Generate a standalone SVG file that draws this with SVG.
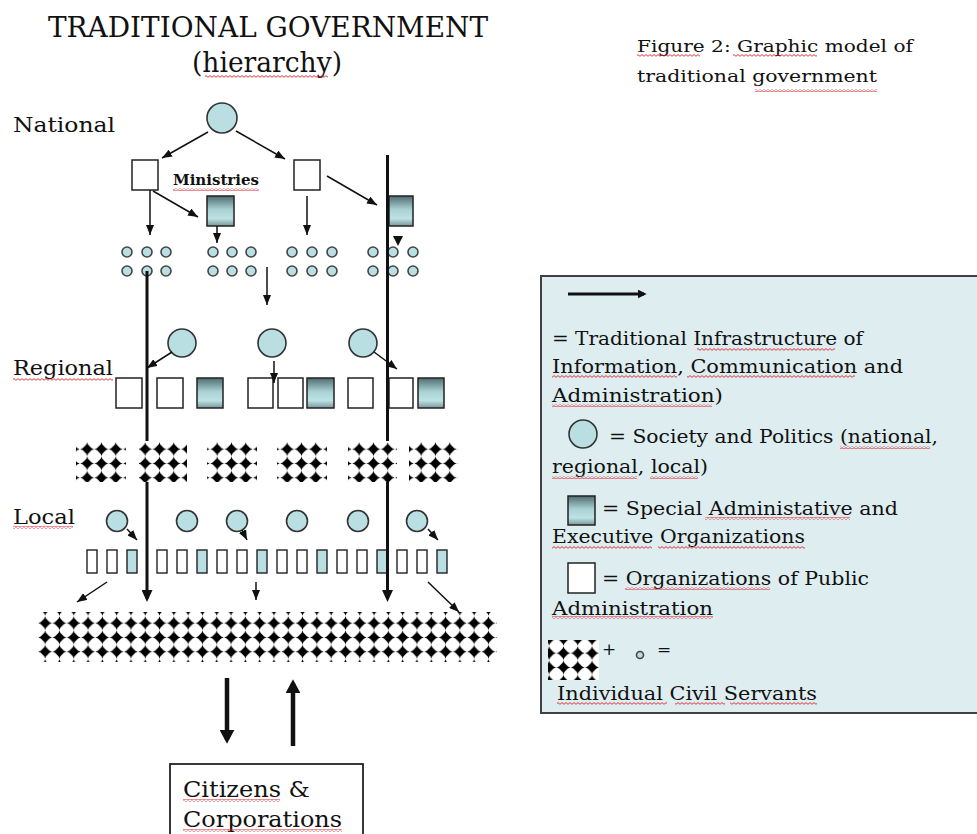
<svg xmlns="http://www.w3.org/2000/svg" width="977" height="834" viewBox="0 0 977 834">
<style>
text{font-family:"DejaVu Serif","Liberation Serif",serif;fill:#111}
.circ{fill:#b9dfe2;stroke:#333;stroke-width:1.6}
.dot{fill:#b9dfe2;stroke:#444;stroke-width:1.6}
.wbox{fill:#fff;stroke:#222;stroke-width:1.5}
.sbox{fill:url(#shade);stroke:#222;stroke-width:1.5}
.lbox{fill:#fff;stroke:#222;stroke-width:1.4}
.lsbox{fill:#b9dfe2;stroke:#222;stroke-width:1.4}
.thin{stroke:#111;stroke-width:1.5;fill:none;marker-end:url(#ah)}
.thick{stroke:#111;stroke-width:3;fill:none}
.thickA{stroke:#111;stroke-width:3;fill:none;marker-end:url(#ahT)}
.big{stroke:#111;stroke-width:4.5;fill:none;marker-end:url(#ahB)}
.dia{fill:url(#dia)}
.sq{fill:url(#sq)}
</style>
<defs>
<linearGradient id="shade" x1="0" y1="0" x2="0" y2="1">
<stop offset="0" stop-color="#4f6c6e"/>
<stop offset="0.45" stop-color="#a9d1d4"/>
<stop offset="0.75" stop-color="#bde2e5"/>
<stop offset="1" stop-color="#7a9799"/>
</linearGradient>
<pattern id="dia" width="14.3" height="14.3" patternUnits="userSpaceOnUse">
<path d="M7.15,0.3 L7.9,2.4 L11.6,6.2 L14,7.15 L11.6,8.1 L7.9,11.9 L7.15,14 L6.4,11.9 L2.7,8.1 L0.3,7.15 L2.7,6.2 L6.4,2.4 Z" fill="#000"/>
</pattern>
<pattern id="sq" width="4" height="3" patternUnits="userSpaceOnUse">
<path d="M0,2.3 L2,0.6 L4,2.3" fill="none" stroke="#e0202a" stroke-width="0.9"/>
</pattern>
<marker id="ah" viewBox="0 0 10 10" refX="10" refY="5" markerWidth="10" markerHeight="8" markerUnits="userSpaceOnUse" orient="auto" preserveAspectRatio="none"><path d="M0,0 L10,5 L0,10 Z" fill="#111"/></marker>
<marker id="ahT" viewBox="0 0 10 10" refX="7" refY="5" markerWidth="12" markerHeight="11" markerUnits="userSpaceOnUse" orient="auto" preserveAspectRatio="none"><path d="M0,0 L10,5 L0,10 Z" fill="#111"/></marker>
<marker id="ahB" viewBox="0 0 10 10" refX="7" refY="5" markerWidth="14" markerHeight="15" markerUnits="userSpaceOnUse" orient="auto" preserveAspectRatio="none"><path d="M0,0 L10,5 L0,10 Z" fill="#111"/></marker>
<marker id="ahL" viewBox="0 0 10 10" refX="7" refY="5" markerWidth="9" markerHeight="9" markerUnits="userSpaceOnUse" orient="auto" preserveAspectRatio="none"><path d="M0,0 L10,5 L0,10 Z" fill="#111"/></marker>
</defs>
<rect width="977" height="834" fill="#fff"/>

<g id="titles">
<text x="48" y="37" font-size="28" textLength="440" lengthAdjust="spacingAndGlyphs">TRADITIONAL GOVERNMENT</text>
<text x="192" y="72" font-size="28" textLength="150" lengthAdjust="spacingAndGlyphs">(hierarchy)</text>
<text x="637" y="52" font-size="17" textLength="276" lengthAdjust="spacingAndGlyphs">Figure 2: Graphic model of</text>
<text x="637" y="82" font-size="17" textLength="240" lengthAdjust="spacingAndGlyphs">traditional government</text>
<text x="13" y="132" font-size="21" textLength="102" lengthAdjust="spacingAndGlyphs">National</text>
<text x="13" y="375" font-size="21" textLength="100" lengthAdjust="spacingAndGlyphs">Regional</text>
<text x="13" y="524" font-size="21" textLength="62" lengthAdjust="spacingAndGlyphs">Local</text>
</g>

<g id="national">
<circle class="circ" cx="222" cy="118" r="15"/>
<rect class="wbox" x="132" y="160" width="26" height="30"/>
<rect class="wbox" x="294" y="160" width="26" height="30"/>
<rect class="sbox" x="207" y="196" width="27" height="30"/>
<text x="173" y="185" font-size="14" font-weight="bold" textLength="86" lengthAdjust="spacingAndGlyphs">Ministries</text>
</g>
<g id="national-dots">
<circle class="dot" cx="127" cy="252" r="5"/><circle class="dot" cx="147" cy="252" r="5"/><circle class="dot" cx="166" cy="252" r="5"/>
<circle class="dot" cx="127" cy="271" r="5"/><circle class="dot" cx="147" cy="271" r="5"/><circle class="dot" cx="166" cy="271" r="5"/>
<circle class="dot" cx="213" cy="252" r="5"/><circle class="dot" cx="232" cy="252" r="5"/><circle class="dot" cx="251" cy="252" r="5"/>
<circle class="dot" cx="213" cy="271" r="5"/><circle class="dot" cx="232" cy="271" r="5"/><circle class="dot" cx="251" cy="271" r="5"/>
<circle class="dot" cx="292" cy="252" r="5"/><circle class="dot" cx="312" cy="252" r="5"/><circle class="dot" cx="332" cy="252" r="5"/>
<circle class="dot" cx="292" cy="271" r="5"/><circle class="dot" cx="312" cy="271" r="5"/><circle class="dot" cx="332" cy="271" r="5"/>
<circle class="dot" cx="373" cy="252" r="5"/><circle class="dot" cx="393" cy="252" r="5"/><circle class="dot" cx="413" cy="252" r="5"/>
<circle class="dot" cx="373" cy="271" r="5"/><circle class="dot" cx="393" cy="271" r="5"/><circle class="dot" cx="413" cy="271" r="5"/>
</g>
<g id="national-right-box">
<rect class="sbox" x="389" y="196" width="24" height="30"/>
</g>

<g id="regional">
<circle class="circ" cx="182" cy="343" r="14"/>
<circle class="circ" cx="272" cy="343" r="14"/>
<circle class="circ" cx="363" cy="343" r="14"/>
<rect class="wbox" x="116" y="378" width="26" height="30"/>
<rect class="wbox" x="157" y="378" width="26" height="30"/>
<rect class="sbox" x="197" y="378" width="26" height="30"/>
<rect class="wbox" x="248" y="378" width="25" height="30"/>
<rect class="wbox" x="278" y="378" width="25" height="30"/>
<rect class="sbox" x="307" y="378" width="27" height="30"/>
<rect class="wbox" x="348" y="378" width="25" height="30"/>
<rect class="wbox" x="389" y="378" width="24" height="30"/>
<rect class="sbox" x="418" y="378" width="26" height="30"/>
</g>

<g id="regional-civil-servants">
<g transform="translate(80,442)"><rect x="-4" y="0" width="50" height="40" fill="#fff"/><rect class="dia" x="-4" y="0" width="50" height="40"/></g>
<g transform="translate(138,442)"><rect x="1" y="0" width="48" height="40" fill="#fff"/><rect class="dia" x="1" y="0" width="48" height="40"/></g>
<g transform="translate(210,442)"><rect x="-3" y="0" width="50" height="40" fill="#fff"/><rect class="dia" x="-3" y="0" width="50" height="40"/></g>
<g transform="translate(280,442)"><rect x="-3" y="0" width="50" height="40" fill="#fff"/><rect class="dia" x="-3" y="0" width="50" height="40"/></g>
<g transform="translate(352,442)"><rect x="-4" y="0" width="49" height="40" fill="#fff"/><rect class="dia" x="-4" y="0" width="49" height="40"/></g>
<g transform="translate(414,442)"><rect x="-5" y="0" width="49" height="40" fill="#fff"/><rect class="dia" x="-5" y="0" width="49" height="40"/></g>
</g>

<g id="local">
<circle class="circ" cx="117" cy="521" r="10.5"/>
<circle class="circ" cx="187" cy="521" r="10.5"/>
<circle class="circ" cx="237" cy="521" r="10.5"/>
<circle class="circ" cx="297" cy="521" r="10.5"/>
<circle class="circ" cx="358" cy="521" r="10.5"/>
<circle class="circ" cx="417" cy="521" r="10.5"/>
<rect class="lbox" x="87" y="550" width="10" height="23"/><rect class="lbox" x="107" y="550" width="10" height="23"/><rect class="lsbox" x="127" y="550" width="10" height="23"/>
<rect class="lbox" x="157" y="550" width="10" height="23"/><rect class="lbox" x="177" y="550" width="10" height="23"/><rect class="lsbox" x="197" y="550" width="10" height="23"/>
<rect class="lbox" x="217" y="550" width="10" height="23"/><rect class="lbox" x="237" y="550" width="10" height="23"/><rect class="lsbox" x="257" y="550" width="10" height="23"/>
<rect class="lbox" x="277" y="550" width="10" height="23"/><rect class="lbox" x="297" y="550" width="10" height="23"/><rect class="lsbox" x="317" y="550" width="10" height="23"/>
<rect class="lbox" x="337" y="550" width="10" height="23"/><rect class="lbox" x="357" y="550" width="10" height="23"/><rect class="lsbox" x="377" y="550" width="10" height="23"/>
<rect class="lbox" x="397" y="550" width="10" height="23"/><rect class="lbox" x="417" y="550" width="10" height="23"/><rect class="lsbox" x="437" y="550" width="10" height="23"/>
</g>

<g id="civil-servants">
<g transform="translate(38,616)"><rect class="dia" x="0" y="-4" width="459" height="50"/></g>
</g>

<g id="connectors">
<line class="thick" x1="147" y1="271" x2="147" y2="441"/>
<line class="thickA" x1="147" y1="482" x2="147" y2="598.4"/>
<line class="thick" x1="387.5" y1="155" x2="387.5" y2="441"/>
<line class="thickA" x1="387.5" y1="482" x2="387.5" y2="598.4"/>
<line class="thin" x1="208" y1="132" x2="162" y2="158"/>
<line class="thin" x1="236" y1="131" x2="285" y2="159"/>
<line class="thin" x1="150" y1="190" x2="150" y2="235"/>
<line class="thin" x1="153" y1="191" x2="198" y2="217"/>
<line class="thin" x1="307" y1="196" x2="307" y2="235"/>
<line class="thin" x1="327" y1="176" x2="377" y2="205"/>
<line class="thin" x1="217" y1="226" x2="217" y2="243"/>
<polygon points="393,236 403,236 398,246" fill="#111"/>
<line class="thin" x1="267" y1="267" x2="267" y2="305"/>
<line class="thin" x1="172" y1="352" x2="147" y2="368"/>
<line class="thin" x1="274" y1="361" x2="274" y2="383"/>
<line class="thin" x1="374" y1="352" x2="397" y2="369"/>
<line class="thin" x1="127" y1="529" x2="137" y2="540"/>
<line class="thin" x1="242" y1="530" x2="247" y2="540"/>
<line class="thin" x1="428" y1="529" x2="438" y2="540"/>
<line class="thin" x1="107" y1="582" x2="77" y2="602"/>
<line class="thin" x1="256" y1="582" x2="256" y2="600"/>
<line class="thin" x1="428" y1="582" x2="459" y2="612"/>
<line class="big" x1="227" y1="678" x2="227" y2="739.5"/>
<line class="big" x1="293" y1="746" x2="293" y2="683.5"/>
</g>

<g id="citizens">
<rect x="170" y="764" width="193" height="80" fill="#fff" stroke="#222" stroke-width="1.8"/>
<text x="183" y="797" font-size="22" textLength="127" lengthAdjust="spacingAndGlyphs">Citizens &amp;</text>
<text x="183" y="827" font-size="22" textLength="159" lengthAdjust="spacingAndGlyphs">Corporations</text>
</g>

<g id="legend">
<rect x="541" y="276" width="440" height="437" fill="#deeef0" stroke="#404040" stroke-width="2"/>
<line x1="568" y1="294" x2="644" y2="294" stroke="#111" stroke-width="3" marker-end="url(#ahL)"/>
<text x="552" y="345" font-size="19" textLength="311" lengthAdjust="spacingAndGlyphs">= Traditional Infrastructure of</text>
<text x="552" y="373" font-size="19" textLength="351" lengthAdjust="spacingAndGlyphs">Information, Communication and</text>
<text x="552" y="402" font-size="19" textLength="171" lengthAdjust="spacingAndGlyphs">Administration)</text>
<circle class="circ" cx="583" cy="434" r="14"/>
<text x="609" y="443" font-size="19" textLength="329" lengthAdjust="spacingAndGlyphs">= Society and Politics (national,</text>
<text x="552" y="473" font-size="19" textLength="156" lengthAdjust="spacingAndGlyphs">regional, local)</text>
<rect class="sbox" x="568" y="496" width="27" height="29"/>
<text x="602" y="515" font-size="19" textLength="296" lengthAdjust="spacingAndGlyphs">= Special Administative and</text>
<text x="552" y="543" font-size="19" textLength="253" lengthAdjust="spacingAndGlyphs">Executive Organizations</text>
<rect class="wbox" x="568" y="563" width="27" height="30"/>
<text x="602" y="585" font-size="19" textLength="267" lengthAdjust="spacingAndGlyphs">= Organizations of Public</text>
<text x="552" y="615" font-size="19" textLength="161" lengthAdjust="spacingAndGlyphs">Administration</text>
<g transform="translate(542,646)"><rect x="6" y="-6" width="51" height="40" fill="#fff"/><rect class="dia" x="6" y="-6" width="51" height="40"/></g>
<text x="602" y="655" font-size="17">+</text>
<circle class="dot" cx="640" cy="655" r="3.5"/>
<text x="657" y="655" font-size="17">=</text>
<text x="557" y="700" font-size="19" textLength="260" lengthAdjust="spacingAndGlyphs">Individual Civil Servants</text>
</g>

<g id="spellcheck-marks">
<rect class="sq" x="205" y="75" width="123" height="3"/>
<rect class="sq" x="173" y="188" width="86" height="3"/>
<rect class="sq" x="13" y="378" width="100" height="3"/>
<rect class="sq" x="13" y="526" width="60" height="3"/>
<rect class="sq" x="183" y="799" width="97" height="3"/>
<rect class="sq" x="183" y="829" width="159" height="3"/>
<rect class="sq" x="637" y="54" width="63" height="3"/>
<rect class="sq" x="733" y="54" width="84" height="3"/>
<rect class="sq" x="755" y="89" width="122" height="3"/>
<rect class="sq" x="697" y="348" width="138" height="3"/>
<rect class="sq" x="552" y="375" width="125" height="3"/>
<rect class="sq" x="687" y="375" width="168" height="3"/>
<rect class="sq" x="552" y="404" width="160" height="3"/>
<rect class="sq" x="840" y="446" width="90" height="3"/>
<rect class="sq" x="552" y="476" width="85" height="3"/>
<rect class="sq" x="650" y="476" width="48" height="3"/>
<rect class="sq" x="705" y="517" width="145" height="3"/>
<rect class="sq" x="552" y="546" width="100" height="3"/>
<rect class="sq" x="658" y="546" width="147" height="3"/>
<rect class="sq" x="625" y="587" width="145" height="3"/>
<rect class="sq" x="552" y="616" width="161" height="3"/>
<rect class="sq" x="557" y="702" width="110" height="3"/>
<rect class="sq" x="675" y="702" width="50" height="3"/>
<rect class="sq" x="730" y="702" width="87" height="3"/>
</g>
</svg>
